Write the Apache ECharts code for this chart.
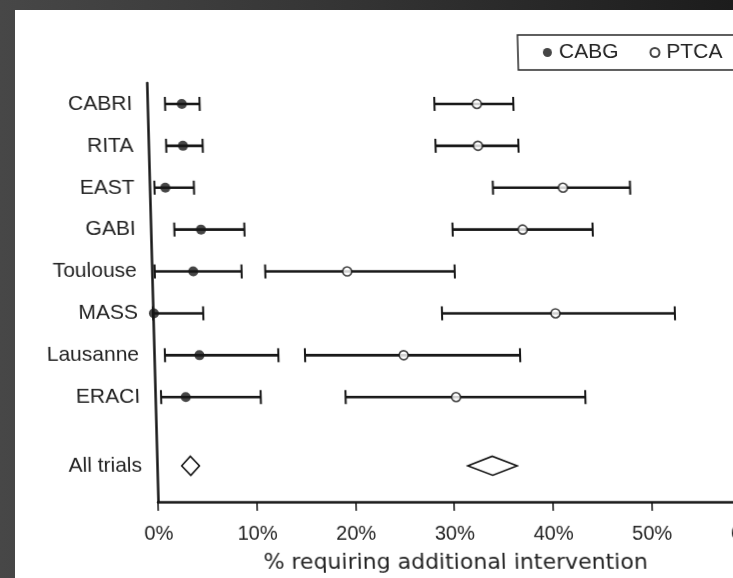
<!DOCTYPE html>
<html><head><meta charset="utf-8">
<script src="https://cdn.jsdelivr.net/npm/echarts@6/dist/echarts.min.js"></script>
<style>
html,body{margin:0;padding:0;width:733px;height:578px;overflow:hidden;background:linear-gradient(to right,#474747 0%,#333 50%,#1c1c1c 100%);}
#paper{position:absolute;left:15px;top:10px;width:718px;height:568px;background:#fff;}
#chart{position:absolute;left:0;top:0;width:800px;height:578px;transform:skewX(1.54deg);transform-origin:0 502px;}
</style></head><body><div id="paper"></div><div id="chart"></div>
<script>
// Trials (rows) and their positions on the vertical axis
const trials = ['CABRI', 'RITA', 'EAST', 'GABI', 'Toulouse', 'MASS', 'Lausanne', 'ERACI'];
const rowPos = [0, 1, 2, 3, 4, 5, 6, 7];
const pooledLabel = 'All trials';
const pooledPos = 8.64;

// % requiring additional intervention — CABG (point estimate, 95% CI)
const cabgEst = [3.5, 3.5, 1.6, 5.1, 4.2, 0.1, 4.6, 3.1];
const cabgLo  = [1.8, 1.8, 0.5, 2.4, 0.3, 0.0, 1.1, 0.6];
const cabgHi  = [5.3, 5.5, 4.5, 9.5, 9.1, 5.1, 12.6, 10.7];

// PTCA (point estimate, 95% CI)
const ptcaEst = [33.4, 33.4, 41.9, 37.7, 19.8, 40.8, 25.3, 30.5];
const ptcaLo  = [29.1, 29.1, 34.8, 30.6, 11.5, 29.3, 15.3, 19.3];
const ptcaHi  = [37.1, 37.5, 48.7, 44.8, 30.7, 52.9, 37.1, 43.6];

// Pooled estimates (lo, est, hi)
const cabgPooled = [2.5, 3.4, 4.3];
const ptcaPooled = [31.5, 34.0, 36.5];

// x-axis ticks
const xMin = 0, xMax = 60, xStep = 10;
const xTitle = '% requiring additional intervention';

const INK = '#161616';
const TXT = '#232323';

function renderBar(params, api) {
  const y = api.value(2);
  const a = api.coord([api.value(0), y]);
  const b = api.coord([api.value(1), y]);
  const c = 7;
  const cap = { stroke: INK, lineWidth: 2 };
  return {
    type: 'group',
    children: [
      { type: 'line', shape: { x1: a[0], y1: a[1], x2: b[0], y2: b[1] }, style: { stroke: INK, lineWidth: 2.6 } },
      { type: 'line', shape: { x1: a[0], y1: a[1] - c, x2: a[0], y2: a[1] + c }, style: cap },
      { type: 'line', shape: { x1: b[0], y1: b[1] - c, x2: b[0], y2: b[1] + c }, style: cap }
    ]
  };
}

function renderDiamond(params, api) {
  const y = api.value(3);
  const l = api.coord([api.value(0), y]);
  const m = api.coord([api.value(1), y]);
  const r = api.coord([api.value(2), y]);
  const h = 9.5;
  return {
    type: 'polygon',
    shape: { points: [[l[0], l[1]], [m[0], m[1] - h], [r[0], r[1]], [m[0], m[1] + h]] },
    style: { fill: '#fff', stroke: INK, lineWidth: 1.6 }
  };
}

const labelPos = rowPos.concat([pooledPos]);
const labelNames = trials.concat([pooledLabel]);

const chart = echarts.init(document.getElementById('chart'), null, { renderer: 'canvas' });
chart.setOption({
  animation: false,
  backgroundColor: 'transparent',
  textStyle: { fontFamily: 'Liberation Sans' },
  grid: { left: 158, top: 83, width: 592, height: 419, containLabel: false, outerBoundsMode: 'none' },
  legend: {
    data: ['CABG', 'PTCA'],
    left: 530, top: 35, width: 260,
    orient: 'horizontal',
    itemWidth: 9, itemHeight: 9, itemGap: 31,
    padding: [7, 40, 7, 25],
    borderColor: '#2a2a2a', borderWidth: 1.5,
    textStyle: { fontSize: 21, color: TXT, fontFamily: 'Liberation Sans', padding: [0, 0, 0, 2] },
    selectedMode: false
  },
  xAxis: {
    type: 'value', min: xMin, max: xMax, interval: xStep,
    axisLine: { onZero: false, lineStyle: { color: INK, width: 2.5 } },
    axisTick: { length: 9, lineStyle: { color: INK, width: 1.5 } },
    splitLine: { show: false },
    axisLabel: { formatter: '{value}%', fontSize: 20, color: TXT, margin: 22, fontFamily: 'Liberation Sans', showMaxLabel: true },
    name: xTitle, nameLocation: 'middle', nameGap: 50,
    nameTextStyle: { fontSize: 22, color: TXT, fontFamily: 'DejaVu Sans' }
  },
  yAxis: {
    type: 'value', inverse: true, min: -0.5, max: 9.5,
    axisLine: { show: true, lineStyle: { color: INK, width: 2.5 } },
    axisTick: { show: false },
    splitLine: { show: false },
    axisLabel: {
      customValues: labelPos,
      formatter: function (v) {
        let best = 0, d = Infinity;
        labelPos.forEach((p, i) => { if (Math.abs(p - v) < d) { d = Math.abs(p - v); best = i; } });
        return labelNames[best];
      },
      fontSize: 21, color: TXT, margin: 15, padding: [5, 0, 0, 0], fontFamily: 'Liberation Sans'
    }
  },
  series: [
    {
      name: 'CABG bars', type: 'custom', renderItem: renderBar, z: 2,
      encode: { x: [0, 1], y: 2 },
      data: cabgLo.map((lo, i) => [lo, cabgHi[i], rowPos[i]])
    },
    {
      name: 'PTCA bars', type: 'custom', renderItem: renderBar, z: 2,
      encode: { x: [0, 1], y: 2 },
      data: ptcaLo.map((lo, i) => [lo, ptcaHi[i], rowPos[i]])
    },
    {
      name: 'CABG', type: 'scatter', symbol: 'circle', symbolSize: 10, z: 5,
      itemStyle: { color: INK },
      data: cabgEst.map((v, i) => [v, rowPos[i]])
    },
    {
      name: 'PTCA', type: 'scatter', symbol: 'circle', symbolSize: 9, z: 5,
      itemStyle: { color: '#fff', borderColor: INK, borderWidth: 1.6 },
      data: ptcaEst.map((v, i) => [v, rowPos[i]])
    },
    {
      name: 'Pooled', type: 'custom', renderItem: renderDiamond, z: 3,
      encode: { x: [0, 1, 2], y: 3 },
      data: [cabgPooled.concat([pooledPos]), ptcaPooled.concat([pooledPos])]
    }
  ]
});
</script></body></html>
